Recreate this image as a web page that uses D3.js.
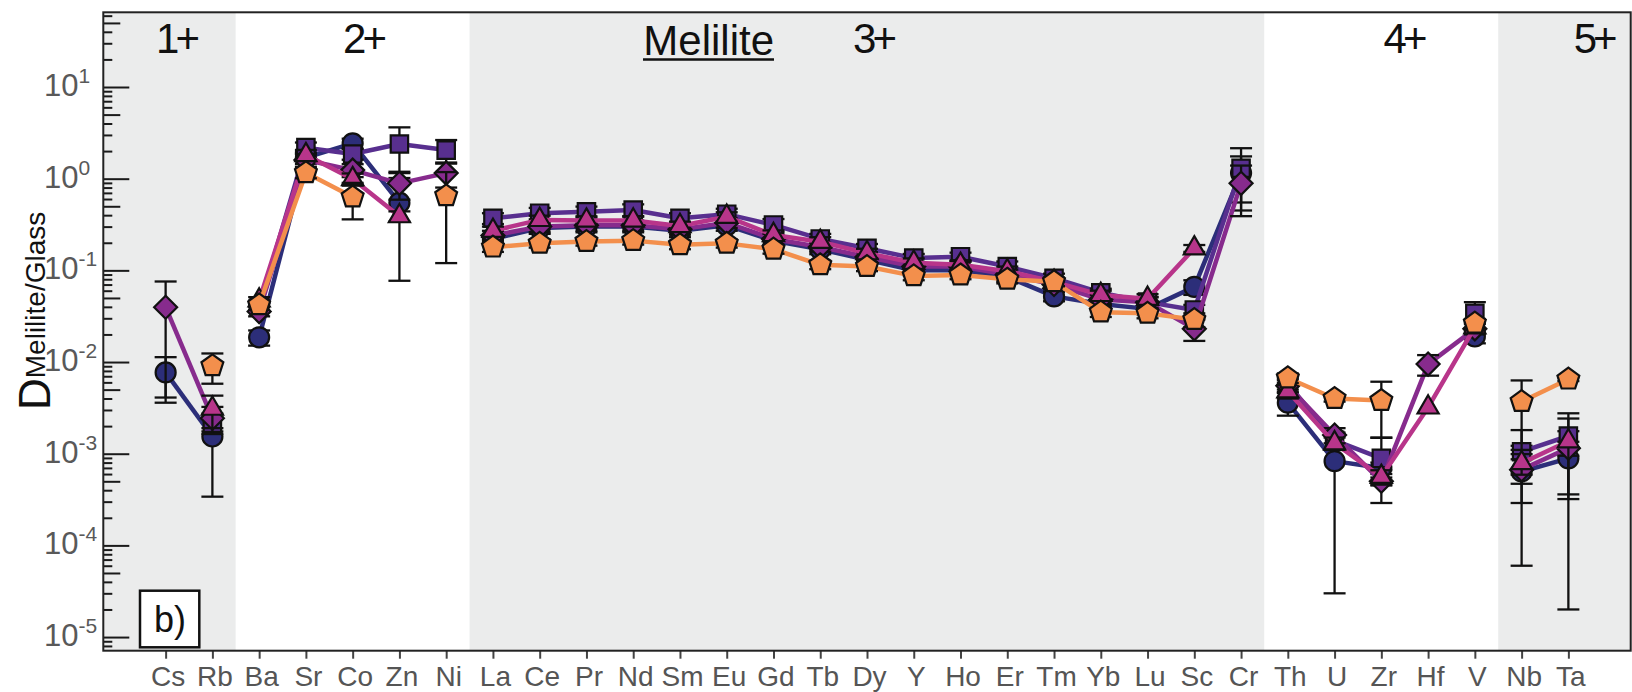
<!DOCTYPE html>
<html><head><meta charset="utf-8">
<script src="https://cdn.jsdelivr.net/npm/d3@7"></script>
<style>
body{margin:0;background:#fff;}
svg{display:block;font-family:"Liberation Sans",Arial,Helvetica,sans-serif;}
</style>
</head><body>
<svg id="chart" width="1632" height="692"></svg>
<script>
// ---------------- DATA ----------------
const elements = ["Cs","Rb","Ba","Sr","Co","Zn","Ni","La","Ce","Pr","Nd","Sm","Eu","Gd","Tb","Dy","Y","Ho","Er","Tm","Yb","Lu","Sc","Cr","Th","U","Zr","Hf","V","Nb","Ta"];
const groupLabels = ["1+","2+","3+","4+","5+"];
const groupFirst = ["Cs","Ba","La","Th","Nb"];
const groupLast  = ["Rb","Ni","Cr","V","Ta"];
const yTickValues = [1e-5,1e-4,1e-3,1e-2,1e-1,1,10];
const yTickExponents = ["-5","-4","-3","-2","-1","0","1"];

// Series: values and +/- errors (null = not plotted)
const circleVals = [0.0077,0.00154,0.0186,1.7,2.43,0.547,null,0.22,0.29,0.30,0.30,0.27,0.31,0.21,0.17,0.13,0.10,0.10,0.085,0.052,0.043,0.038,0.066,1.15,0.0036,0.00083,0.0007,null,0.019,0.00064,0.00089];
const circleErr  = [0.0036,0.0012,0.0035,0.25,0.3,0.47,null,0.03,0.04,0.04,0.04,0.04,0.04,0.03,0.02,0.015,0.012,0.012,0.01,0.006,0.005,0.005,0.012,0.6,0.001,0.0008,0.0001,null,0.003,0.00058,0.00087];

const squareVals = [null,0.00215,0.04,2.18,1.86,2.39,2.05,0.37,0.42,0.436,0.455,0.37,0.41,0.313,0.22,0.174,0.136,0.141,0.11,0.082,0.057,0.045,0.037,1.3,0.0058,0.0014,0.00089,null,0.034,0.00105,0.00156];
const squareErr  = [null,0.0004,0.004,0.3,0.25,1.24,0.59,0.05,0.06,0.06,0.07,0.05,0.06,0.05,0.03,0.02,0.015,0.015,0.015,0.01,0.006,0.006,0.005,0.85,0.0008,0.0003,0.0006,null,0.011,0.00076,0.0012];

const diamondVals = [0.0396,0.00244,0.0355,1.6,1.24,0.89,1.15,0.24,0.30,0.31,0.31,0.28,0.33,0.22,0.18,0.14,0.11,0.11,0.09,0.07,0.048,0.045,0.023,0.89,0.0055,0.0016,0.0005,0.0095,0.023,0.00067,0.00115];
const diamondErr  = [0.036,0.0008,0.004,0.25,0.2,0.3,0.35,0.03,0.04,0.04,0.04,0.035,0.04,0.03,0.02,0.018,0.014,0.014,0.012,0.008,0.006,0.006,0.006,0.5,0.0008,0.0003,0.00005,0.0024,0.003,0.0002,0.0002];

const triangleVals = [null,0.0031,0.047,1.81,0.99,0.39,null,0.27,0.355,0.349,0.35,0.305,0.385,0.243,0.205,0.154,0.121,0.115,0.098,0.075,0.054,0.049,0.174,null,0.0048,0.0013,0.00056,0.0032,0.024,0.00079,0.00137];
const triangleErr  = [null,0.0012,0.004,0.25,0.15,0.05,null,0.03,0.04,0.04,0.04,0.035,0.045,0.03,0.025,0.018,0.014,0.014,0.012,0.008,0.006,0.006,0.015,null,0.0008,0.0002,0.0001,null,0.003,0.0002,0.00105];

const pentagonVals = [null,0.0091,0.042,1.16,0.63,null,0.65,0.179,0.197,0.206,0.211,0.19,0.197,0.17,0.115,0.11,0.087,0.089,0.08,0.075,0.035,0.034,0.029,null,0.0067,0.004,0.0038,null,0.0265,0.0037,0.0065];
const pentagonErr  = [null,0.0033,0.005,0.15,0.27,null,0.53,0.02,0.02,0.02,0.02,0.02,0.02,0.018,0.012,0.012,0.009,0.009,0.008,0.008,0.004,0.004,0.005,null,0.0008,0.0003,0.0023,null,0.003,0.0026,0.0003];

const seriesNames  = ["circle","square","diamond","triangle","pentagon"];
const seriesColors = ["#2c2e79","#582f8f","#872b8d","#b8358a","#f38f4c"];
const seriesVals   = [circleVals,squareVals,diamondVals,triangleVals,pentagonVals];
const seriesErrs   = [circleErr,squareErr,diamondErr,triangleErr,pentagonErr];

// ---------------- LAYOUT ----------------
const L = 103.3, R = 1630.7, T = 12.3, B = 650.7;
const svg = d3.select("#chart");
const x = d3.scalePoint().domain(elements).range([L, R]).padding(1.333);
const y = d3.scaleLog().domain([7.1e-6, 65.3]).range([B, T]);
const step = x.step();

// background bands
const bandG = svg.append("g");
groupFirst.forEach((g, i) => {
  const x0 = i === 0 ? L : x(g) - step / 2;
  const x1 = i === groupFirst.length - 1 ? R : x(groupLast[i]) + step / 2;
  bandG.append("rect").attr("x", x0).attr("y", T).attr("width", x1 - x0).attr("height", B - T)
    .attr("fill", i % 2 === 0 ? "#ebecec" : "#ffffff");
});

// group labels
const labelG = svg.append("g").attr("font-size", 42).attr("fill", "#111");
const labelX = [176, 363, 873, 1403.5, 1593.7];
groupLabels.forEach((t, i) => {
  labelG.append("text").attr("x", labelX[i]).attr("y", 53).attr("text-anchor", "middle")
    .attr("letter-spacing", -4).text(t);
});
labelG.append("text").attr("x", 708.7).attr("y", 55).attr("text-anchor", "middle")
  .attr("font-size", 42).text("Melilite");
labelG.append("line").attr("x1", 643).attr("x2", 774).attr("y1", 59.5).attr("y2", 59.5)
  .attr("stroke", "#111").attr("stroke-width", 2.5);

// y ticks (inward)
const minorVals = [], midVals = [];
for (let k = -6; k <= 1; k++) {
  for (let m = 2; m <= 9; m++) {
    const v = m * Math.pow(10, k);
    if (v < y.domain()[0] || v > y.domain()[1]) continue;
    (m === 5 ? midVals : minorVals).push(v);
  }
}
function tickAxis(vals, len) {
  const g = svg.append("g").attr("transform", `translate(${L},0)`)
    .call(d3.axisLeft(y).tickValues(vals).tickSize(-len).tickFormat(""));
  g.select(".domain").remove();
  g.selectAll("line").attr("stroke", "#1a1a1a").attr("stroke-width", 2);
}
tickAxis(yTickValues, 26);
tickAxis(midVals, 17);
tickAxis(minorVals, 9);

// y tick labels
const yl = svg.append("g").attr("fill", "#595959");
yTickValues.forEach((v, i) => {
  const t = yl.append("text").attr("x", 44).attr("y", y(v) + 9).attr("font-size", 31);
  t.append("tspan").text("10");
  t.append("tspan").attr("font-size", 21).attr("dy", -13).text(yTickExponents[i]);
});

// y title
const yt = svg.append("text").attr("transform", "translate(50,410) rotate(-90)").attr("fill", "#111");
yt.append("tspan").attr("font-size", 44).text("D");
yt.append("tspan").attr("font-size", 28).attr("dy", -5).text("Melilite/Glass");

// x axis
const xa = svg.append("g").attr("transform", `translate(0,${B})`)
  .call(d3.axisBottom(x).tickSize(8));
xa.select(".domain").remove();
xa.selectAll("line").attr("stroke", "#444").attr("stroke-width", 2);
xa.selectAll("text").attr("font-size", 28).attr("fill", "#555").attr("dy", null).attr("y", 35.3)
  .attr("dx", 2).attr("font-family", '"Liberation Sans",Arial,sans-serif');

// series
function shapePath(type) {
  const p = d3.path();
  if (type === "circle") { p.arc(0, 0, 10, 0, 2 * Math.PI); p.closePath(); }
  else if (type === "square") { p.rect(-8.7, -8.7, 17.4, 17.4); }
  else if (type === "diamond") { p.moveTo(0, -11.5); p.lineTo(11.5, 0); p.lineTo(0, 11.5); p.lineTo(-11.5, 0); p.closePath(); }
  else if (type === "triangle") { const r = 12.2; p.moveTo(0, -r); p.lineTo(r * 0.866, r * 0.5); p.lineTo(-r * 0.866, r * 0.5); p.closePath(); }
  else { const r = 11.5; for (let k = 0; k < 5; k++) { const a = -Math.PI / 2 + k * 2 * Math.PI / 5; k === 0 ? p.moveTo(r * Math.cos(a), r * Math.sin(a)) : p.lineTo(r * Math.cos(a), r * Math.sin(a)); } p.closePath(); }
  return p.toString();
}
const line = d3.line().defined(d => d.v != null).x(d => x(d.el)).y(d => y(d.v));
const plotG = svg.append("g");
seriesNames.forEach((name, si) => {
  const vals = seriesVals[si], errs = seriesErrs[si], col = seriesColors[si];
  const pts = elements.map((el, i) => ({ el, v: vals[i], e: errs[i] }));
  const sg = plotG.append("g");
  groupFirst.forEach((g, gi) => {
    const a = elements.indexOf(g), b = elements.indexOf(groupLast[gi]);
    sg.append("path").datum(pts.slice(a, b + 1)).attr("d", line)
      .attr("fill", "none").attr("stroke", col).attr("stroke-width", 4.5).attr("stroke-linejoin", "round");
  });
  const eg = sg.append("g").attr("stroke", "#111").attr("stroke-width", 2.3);
  pts.filter(d => d.v != null && d.e != null).forEach(d => {
    const cx = x(d.el);
    const lo = Math.max(d.v - d.e, y.domain()[0]);
    const hi = d.v + d.e;
    eg.append("line").attr("x1", cx).attr("x2", cx).attr("y1", y(lo)).attr("y2", y(hi));
    [lo, hi].forEach(b => eg.append("line").attr("x1", cx - 11).attr("x2", cx + 11).attr("y1", y(b)).attr("y2", y(b)));
  });
  sg.selectAll("path.mk").data(pts.filter(d => d.v != null)).enter().append("path").attr("class", "mk")
    .attr("d", shapePath(name)).attr("transform", d => `translate(${x(d.el)},${y(d.v)})`)
    .attr("fill", col).attr("stroke", "#111").attr("stroke-width", 2.2);
});

// b) box
svg.append("rect").attr("x", 140).attr("y", 590.7).attr("width", 59.3).attr("height", 56.6)
  .attr("fill", "#fff").attr("stroke", "#111").attr("stroke-width", 2.5);
svg.append("text").attr("x", 170).attr("y", 632).attr("text-anchor", "middle").attr("font-size", 36).attr("fill", "#111").text("b)");

// frame
svg.append("rect").attr("x", L).attr("y", T).attr("width", R - L).attr("height", B - T)
  .attr("fill", "none").attr("stroke", "#222").attr("stroke-width", 2);
</script>
</body></html>
